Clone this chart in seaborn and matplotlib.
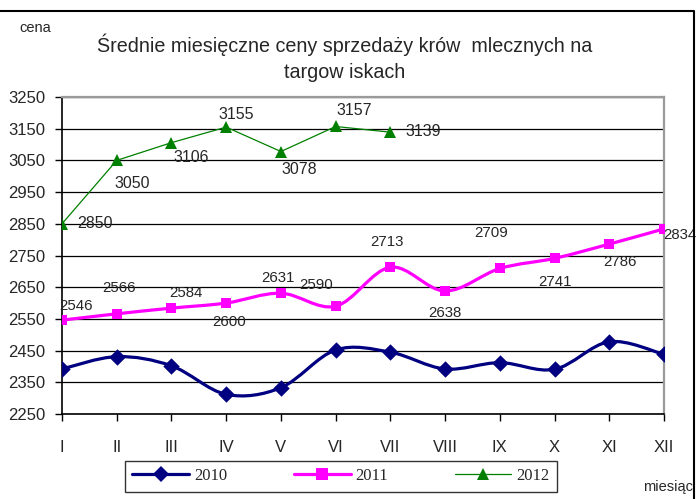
import numpy as np
import pandas as pd
import matplotlib
matplotlib.use('Agg')
import matplotlib.pyplot as plt
import seaborn as sns
from matplotlib.path import Path
from matplotlib.patches import PathPatch
from matplotlib.lines import Line2D

# data
months = ['I', 'II', 'III', 'IV', 'V', 'VI', 'VII', 'VIII', 'IX', 'X', 'XI', 'XII']
prices_2010 = [2392, 2431, 2402, 2312, 2333, 2452, 2445, 2392, 2412, 2391, 2478, 2438]
prices_2011 = [2546, 2566, 2584, 2600, 2631, 2590, 2713, 2638, 2709, 2741, 2786, 2834]
prices_2012 = [2850, 3050, 3106, 3155, 3078, 3157, 3139]
years = ['2010', '2011', '2012']
y_ticks = list(range(2250, 3251, 100))

# label offsets (pixels) for the data labels
offs_2011 = [(14, 14), (2, 26), (14, 15), (3, -19), (-3, 15), (-20, 21),
             (-3, 25), (0, -22), (-9, 35), (0, -24), (11, -18), (16, -6)]
offs_2012 = [(33, 0), (15, -23), (20, -15), (10, 13), (18, -18), (19, 16), (33, 1)]

c2010, c2011, c2012 = '#000080', '#FF00FF', '#008000'

sns.set_style('white')
narrow = ['Liberation Sans Narrow', 'Liberation Sans', 'DejaVu Sans']
plt.rcParams['font.family'] = ['Liberation Sans', 'DejaVu Sans']


def smooth_path(xs, ys):
    # Excel-like smoothed line: bezier segments through every point
    xs = np.asarray(xs, float)
    ys = np.asarray(ys, float)
    n = len(xs)
    verts = [(xs[0], ys[0])]
    codes = [Path.MOVETO]
    for i in range(n - 1):
        a = max(i - 1, 0)
        b = min(i + 2, n - 1)
        c1 = (xs[i] + (xs[i + 1] - xs[a]) / 6, ys[i] + (ys[i + 1] - ys[a]) / 6)
        c2 = (xs[i + 1] - (xs[b] - xs[i]) / 6, ys[i + 1] - (ys[b] - ys[i]) / 6)
        verts += [c1, c2, (xs[i + 1], ys[i + 1])]
        codes += [Path.CURVE4] * 3
    return Path(verts, codes)


fig = plt.figure(figsize=(6.96, 4.99), dpi=100)
ax = fig.add_axes([62 / 696, 1 - 414 / 499, (664 - 62) / 696, (414 - 97) / 499])

x_all = np.arange(len(months))
x_2012 = np.arange(len(prices_2012))

ax.add_patch(PathPatch(smooth_path(x_all, prices_2010), fill=False, edgecolor=c2010, lw=2.3, zorder=3))
ax.add_patch(PathPatch(smooth_path(x_all, prices_2011), fill=False, edgecolor=c2011, lw=2.3, zorder=3))
sns.scatterplot(x=x_all, y=prices_2010, marker='D', s=70, color=c2010, linewidth=0, ax=ax, zorder=4)
sns.scatterplot(x=x_all, y=prices_2011, marker='s', s=60, color=c2011, linewidth=0, ax=ax, zorder=4)
sns.lineplot(x=x_2012, y=prices_2012, color=c2012, lw=0.9, marker='^', markersize=9,
             markeredgewidth=0, ax=ax, zorder=4)

for i, v in enumerate(prices_2011):
    ax.annotate(str(v), (i, v), xytext=offs_2011[i], textcoords='offset pixels',
                ha='center', va='center', fontsize=10.8, family=narrow, zorder=5)
for i, v in enumerate(prices_2012):
    ax.annotate(str(v), (i, v), xytext=offs_2012[i], textcoords='offset pixels',
                ha='center', va='center', fontsize=11.5, zorder=5)

ax.set_xlim(0, 11)
ax.set_ylim(2250, 3250)
ax.set_xticks(x_all)
ax.set_xticklabels(months, fontsize=12)
ax.set_yticks(y_ticks)
ax.set_yticklabels([str(t) for t in y_ticks], fontsize=12)
ax.tick_params(axis='x', direction='out', length=5, width=1, pad=13.5, color='black', bottom=True)
ax.tick_params(axis='y', direction='out', length=5, width=1, pad=7, color='black', left=True)
ax.set_axisbelow(True)
ax.yaxis.grid(True, color='black', lw=0.9)
ax.xaxis.grid(False)
for side in ['left', 'bottom']:
    ax.spines[side].set_color('black')
    ax.spines[side].set_linewidth(1.2)
for side in ['top', 'right']:
    ax.spines[side].set_color('#9a9a9a')
    ax.spines[side].set_linewidth(1.6)
ax.set_xlabel('')
ax.set_ylabel('')

handles = [
    Line2D([], [], color=c2010, lw=2.3, marker='D', markersize=8, markeredgewidth=0),
    Line2D([], [], color=c2011, lw=2.3, marker='s', markersize=8, markeredgewidth=0),
    Line2D([], [], color=c2012, lw=0.9, marker='^', markersize=9, markeredgewidth=0),
]
leg = fig.legend(handles, years, loc='center', bbox_to_anchor=(341 / 696, 1 - 476 / 499),
                 ncol=3, frameon=True, fancybox=False, edgecolor='black', handlelength=3.4,
                 columnspacing=4.0, handletextpad=0.3, borderpad=0.45,
                 prop={'family': ['Liberation Serif', 'DejaVu Serif'], 'size': 12})
leg.get_frame().set_linewidth(1.0)

fig.text(345 / 696, 1 - 45 / 499, 'Średnie miesięczne ceny sprzedaży krów  mlecznych na',
         ha='center', va='center', fontsize=14.2, family=narrow)
fig.text(345 / 696, 1 - 72 / 499, 'targow iskach', ha='center', va='center', fontsize=14.2, family=narrow)
fig.text(35 / 696, 1 - 28 / 499, 'cena', ha='center', va='center', fontsize=10.5, family=narrow)
fig.text(693 / 696, 1 - 487 / 499, 'miesiąc', ha='right', va='center', fontsize=10.5, family=narrow)

# outer chart border
fig.add_artist(Line2D([0, 694 / 696, 694 / 696], [1 - 11 / 499, 1 - 11 / 499, 0],
                      transform=fig.transFigure, color='black', lw=1.5))

fig.savefig('out.png', dpi=100)
